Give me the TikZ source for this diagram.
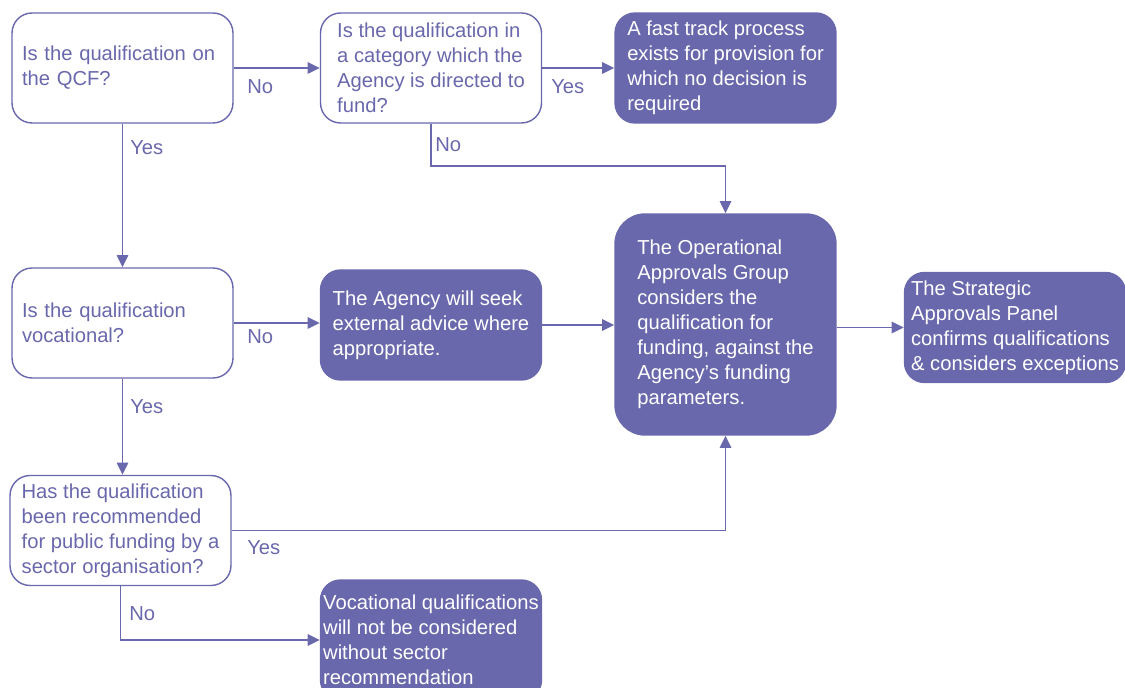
\documentclass[tikz,border=0pt]{standalone}
\usepackage{fontspec}
\setmainfont{Liberation Sans}
\usetikzlibrary{arrows.meta}
\definecolor{lsbpurple}{RGB}{106,104,172}

\begin{document}
\begin{tikzpicture}[x=0.02cm,y=-0.02cm,
    font=\fontsize{11.5}{14.2}\selectfont,
    question/.style={draw=lsbpurple,line width=0.8pt,fill=white,text=lsbpurple,
        rounded corners=0.4cm,minimum height=2.2cm,minimum width=4.42cm,
        inner xsep=0pt,align=left},
    shortq/.style={question,inner xsep=0.2cm,text width=4.02cm},
    outcome/.style={question,fill=lsbpurple,text=white},
    flow/.style={draw=lsbpurple,line width=1.1pt,-{Triangle[length=7pt,width=6.5pt]}},
    answer/.style={text=lsbpurple,anchor=west,inner sep=0pt}]

    \useasboundingbox (0,0) rectangle (1125,688);

    % Draw the question boxes
    \node[shortq] (qcf) at (122.5,68) {Is the qualification on\\the QCF?};
    \node[question] (category) at (431,68) {Is the qualification in\\a category which the\\Agency is directed to\\fund?};
    \node[shortq] (vocational) at (122.5,323) {Is the qualification\\vocational?};
    \node[question] (sector) at (120.5,530.5) {Has the qualification\\been recommended\\for public funding by a\\sector organisation?};

    % Draw the outcome boxes
    \node[outcome] (fasttrack) at (725.5,68) {A fast track process\\exists for provision for\\which no decision is\\required};
    \node[outcome] (advice) at (431,325) {The Agency will seek\\external advice where\\appropriate.};
    \node[outcome,minimum height=4.42cm,rounded corners=0.6cm] (group) at (725.5,324.5) {The Operational\\Approvals Group\\considers the\\qualification for\\funding, against the\\Agency's funding\\parameters.};
    \node[outcome] (panel) at (1015,327.5) {The Strategic\\Approvals Panel\\confirms qualifications\\\& considers exceptions};
    \node[outcome,minimum height=2.4cm] (notconsidered) at (431,640) {Vocational qualifications\\will not be considered\\without sector\\recommendation};

    % Draw the connectors
    \coordinate (bend) at (431,166);
    \draw[flow] (qcf.east) -- (category.west);
    \draw[flow] (category.east) -- (fasttrack.west);
    \draw[flow] (qcf.south) -- (vocational.north);
    \draw[flow] (category.south) -- (bend) -| (group.north);
    \draw[flow] (vocational.east) -- (vocational.east -| advice.west);
    \draw[flow] (advice.east) -- (advice.east -| group.west);
    \draw[flow] (group.east |- panel.west) -- (panel.west);
    \draw[flow] (vocational.south) -- (vocational.south |- sector.north);
    \draw[flow] (sector.east) -| (group.south);
    \draw[flow] (sector.south) |- (notconsidered.west);

    % Labels for the connectors
    \node[answer] (qcfno) at (247,87) {No};
    \node[answer] (qcfyes) at (130,148) {Yes};
    \node[answer] (categoryyes) at (551,87) {Yes};
    \node[answer] (categoryno) at (435,145) {No};
    \node[answer] (vocationalno) at (247,337) {No};
    \node[answer] (vocationalyes) at (130,407) {Yes};
    \node[answer] (sectoryes) at (247,548) {Yes};
    \node[answer] (sectorno) at (129,614) {No};

\end{tikzpicture}
\end{document}
